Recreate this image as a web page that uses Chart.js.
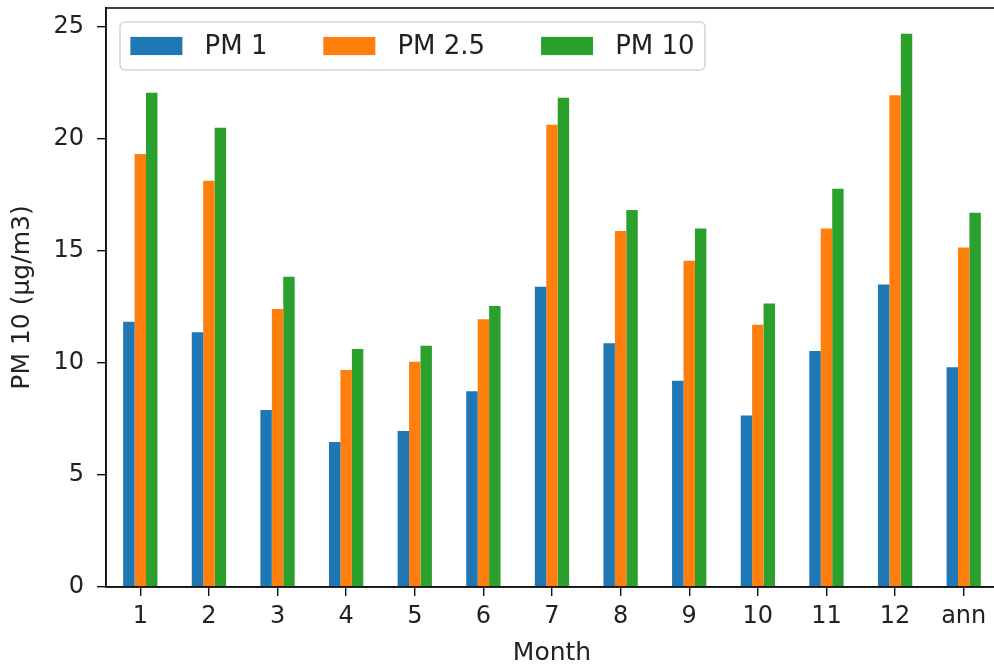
<!DOCTYPE html>
<html>
<head>
<meta charset="utf-8">
<script src="https://cdn.jsdelivr.net/npm/chart.js@4"></script>
<style>
  html, body { margin: 0; padding: 0; background: #fff; overflow: hidden; }
  #wrap { width: 994px; height: 666px; overflow: hidden; }
</style>
</head>
<body>
<div id="wrap"><canvas id="pmChart" width="1000" height="666"></canvas></div>
<script>
const months = ['1', '2', '3', '4', '5', '6', '7', '8', '9', '10', '11', '12', 'ann'];
const pm1 = [11.84, 11.37, 7.90, 6.47, 6.96, 8.74, 13.41, 10.88, 9.21, 7.66, 10.54, 13.51, 9.81];
const pm25 = [19.33, 18.14, 12.41, 9.69, 10.06, 11.95, 20.64, 15.89, 14.57, 11.71, 16.00, 21.95, 15.16];
const pm10 = [22.07, 20.50, 13.85, 10.63, 10.77, 12.54, 21.84, 16.83, 16.00, 12.66, 17.78, 24.70, 16.71];
const yTicks = [0, 5, 10, 15, 20, 25];

const FONT = 'DejaVu Sans';
const INK = '#222';

// boxed legend inside the upper-left of the axes, plus the full spine frame
const axesDecor = {
  id: 'axesDecor',
  afterDatasetsDraw(chart) {
    const { ctx, chartArea } = chart;
    ctx.save();
    ctx.strokeStyle = '#111';
    ctx.lineWidth = 1.6;
    ctx.strokeRect(chartArea.left, chartArea.top, chartArea.right - chartArea.left, chartArea.bottom - chartArea.top);

    const fs = 26;
    ctx.font = fs + 'px "' + FONT + '"';
    const pad = 0.4 * fs, swW = 2 * fs, swH = 0.7 * fs, gap = 0.85 * fs, colGap = 2.15 * fs;
    const items = chart.data.datasets.map(ds => ({ text: ds.label, color: ds.backgroundColor }));
    let width = 2 * pad;
    items.forEach((it, i) => {
      width += swW + gap + ctx.measureText(it.text).width + (i < items.length - 1 ? colGap : 0);
    });
    const bx = chartArea.left + 14, by = chartArea.top + 14, bh = 48;
    ctx.beginPath();
    ctx.roundRect(bx, by, width, bh, 5);
    ctx.fillStyle = 'rgba(255,255,255,0.8)';
    ctx.fill();
    ctx.strokeStyle = '#d6d6d6';
    ctx.lineWidth = 1.6;
    ctx.stroke();

    let x = bx + pad;
    const cy = by + bh / 2;
    ctx.textBaseline = 'middle';
    items.forEach(it => {
      ctx.fillStyle = it.color;
      ctx.fillRect(x, cy - swH / 2, swW, swH);
      x += swW + gap;
      ctx.fillStyle = INK;
      ctx.fillText(it.text, x, cy + 1);
      x += ctx.measureText(it.text).width + colGap;
    });
    ctx.restore();
  }
};

new Chart(document.getElementById('pmChart'), {
  type: 'bar',
  data: {
    labels: months,
    datasets: [
      { label: 'PM 1', data: pm1, backgroundColor: '#1f77b4' },
      { label: 'PM 2.5', data: pm25, backgroundColor: '#ff7f0e' },
      { label: 'PM 10', data: pm10, backgroundColor: '#2ca02c' }
    ]
  },
  options: {
    responsive: false,
    animation: false,
    devicePixelRatio: 1,
    layout: { padding: { top: 8, right: 2, left: 0, bottom: 0 } },
    datasets: { bar: { barPercentage: 1.0, categoryPercentage: 0.5 } },
    plugins: {
      legend: { display: false },
      tooltip: { enabled: false }
    },
    scales: {
      x: {
        grid: { display: true, offset: false, drawOnChartArea: false, drawTicks: true, tickLength: 9, color: '#111', lineWidth: 1.4 },
        border: { display: true, color: '#111', width: 1.6 },
        ticks: { color: INK, font: { family: FONT, size: 24 }, padding: 6, maxRotation: 0, autoSkip: false },
        title: { display: true, text: 'Month', color: INK, font: { family: FONT, size: 25, lineHeight: 1 }, padding: { top: 0, bottom: 0 } },
        afterFit(scale) {
          scale.height = 79;
          scale.paddingLeft = 0;
          scale.paddingRight = 0;
        }
      },
      y: {
        min: 0,
        max: 25.85,
        afterBuildTicks(scale) { scale.ticks = yTicks.map(v => ({ value: v })); },
        grid: { display: true, drawOnChartArea: false, drawTicks: true, tickLength: 9, color: '#111', lineWidth: 1.4 },
        border: { display: true, color: '#111', width: 1.6 },
        ticks: { color: INK, font: { family: FONT, size: 24 }, padding: 13 },
        title: { display: true, text: 'PM 10 (µg/m3)', color: INK, font: { family: FONT, size: 25, lineHeight: 1 }, padding: { top: 10, bottom: 0 } },
        afterFit(scale) {
          scale.width = 106;
          scale.paddingTop = 0;
          scale.paddingBottom = 0;
        }
      }
    }
  },
  plugins: [axesDecor]
});
</script>
</body>
</html>
